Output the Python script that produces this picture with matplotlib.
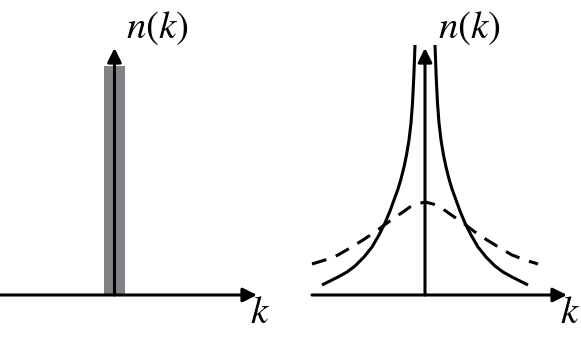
import numpy as np
import matplotlib.pyplot as plt

plt.rcParams['mathtext.fontset'] = 'stix'

# 왼쪽 패널: 좁은 막대 (k=0 근처)
bar_k = [0.0]
bar_width = [0.21]
bar_n = [2.29]

# 오른쪽 패널: 실선 (뾰족한 분포), 왼쪽/오른쪽 가지
solid_left_k = [-1.03, -0.95, -0.87, -0.78, -0.70, -0.61, -0.53, -0.46, -0.40, -0.35,
                -0.31, -0.27, -0.24, -0.21, -0.185, -0.16, -0.14, -0.125, -0.112, -0.10]
solid_left_n = [0.10, 0.14, 0.18, 0.23, 0.29, 0.38, 0.48, 0.60, 0.72, 0.84,
                0.95, 1.06, 1.16, 1.28, 1.40, 1.55, 1.72, 1.92, 2.18, 2.50]
solid_right_k = [0.10, 0.112, 0.125, 0.14, 0.16, 0.185, 0.21, 0.24, 0.27, 0.31,
                 0.35, 0.40, 0.46, 0.53, 0.61, 0.70, 0.78, 0.87, 0.95, 1.03]
solid_right_n = [2.50, 2.18, 1.92, 1.72, 1.55, 1.40, 1.28, 1.16, 1.06, 0.95,
                 0.84, 0.72, 0.60, 0.48, 0.38, 0.29, 0.23, 0.18, 0.14, 0.10]

# 오른쪽 패널: 점선 (넓은 분포)
dash_k = [-1.13, -1.00, -0.87, -0.75, -0.62, -0.50, -0.38, -0.25, -0.15, -0.08, 0.0,
          0.08, 0.15, 0.25, 0.38, 0.50, 0.62, 0.75, 0.87, 1.00, 1.13]
dash_n = [0.31, 0.35, 0.40, 0.47, 0.55, 0.63, 0.72, 0.81, 0.88, 0.91, 0.93,
          0.91, 0.88, 0.81, 0.72, 0.63, 0.55, 0.47, 0.40, 0.35, 0.31]

W, H = 581, 340
fig = plt.figure(figsize=(W / 100, H / 100), dpi=100)

LW = 2.2


def draw_axes(ax, x0, x1, ytop, lx):
    arrow = dict(arrowstyle='-|>,head_length=0.6,head_width=0.3', lw=LW,
                 color='black', mutation_scale=14, shrinkA=0, shrinkB=0)
    ax.annotate('', xy=(x1, 0), xytext=(x0, 0), arrowprops=arrow)
    ax.annotate('', xy=(0, ytop), xytext=(0, 0), arrowprops=arrow)
    ax.text(lx, 2.67, r'$n(k)$', fontsize=28, ha='center', va='center')
    ax.text(1.45, -0.17, r'$k$', fontsize=28, ha='center', va='center')


# 왼쪽 패널
ax1 = fig.add_axes([0, 0, 290 / W, 1])
ax1.set_xlim(-1.145, -1.145 + 2.90)
ax1.set_ylim(-0.45, 2.95)
ax1.axis('off')
ax1.bar(bar_k, bar_n, width=bar_width, color='#808285', zorder=1)
draw_axes(ax1, -1.2, 1.425, 2.47, 0.43)

# 오른쪽 패널
ax2 = fig.add_axes([290 / W, 0, 291 / W, 1])
ax2.set_xlim(-1.35, -1.35 + 2.91)
ax2.set_ylim(-0.45, 2.95)
ax2.axis('off')
ax2.plot(solid_left_k, solid_left_n, color='black', lw=LW, solid_capstyle='butt')
ax2.plot(solid_right_k, solid_right_n, color='black', lw=LW, solid_capstyle='butt')
ax2.plot(dash_k, dash_n, color='black', lw=LW, linestyle=(0, (4.9, 3.3)))
draw_axes(ax2, -1.13, 1.42, 2.47, 0.445)

plt.savefig('out.png', dpi=100)
